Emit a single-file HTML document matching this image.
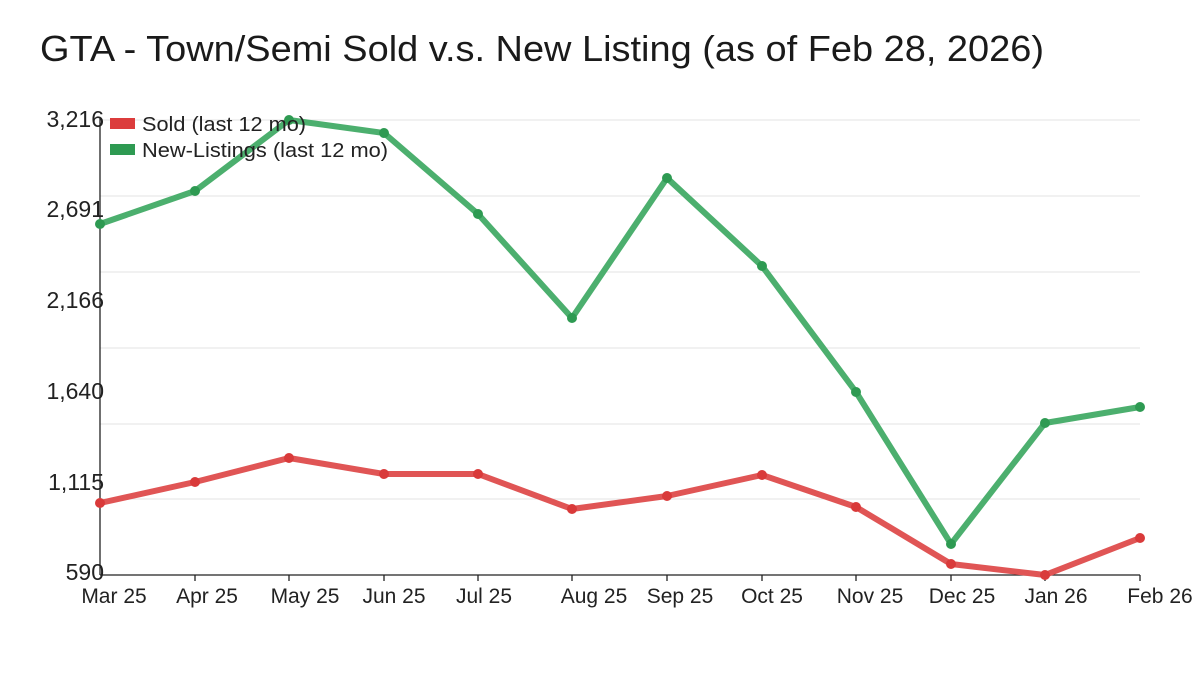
<!DOCTYPE html>
<html><head><meta charset="utf-8"><style>
body{margin:0;background:#fff;width:1200px;height:675px;overflow:hidden}
svg{font-family:"Liberation Sans","DejaVu Sans",sans-serif}
</style></head><body>
<svg width="1200" height="675" viewBox="0 0 1200 675">
<text x="40" y="61" font-size="36" fill="#1a1a1a" textLength="1004" lengthAdjust="spacingAndGlyphs">GTA - Town/Semi Sold v.s. New Listing (as of Feb 28, 2026)</text>
<g stroke="#e3e3e3" stroke-width="1">
<line x1="100" x2="1140" y1="120" y2="120"/><line x1="100" x2="1140" y1="196" y2="196"/>
<line x1="100" x2="1140" y1="272" y2="272"/><line x1="100" x2="1140" y1="348" y2="348"/>
<line x1="100" x2="1140" y1="424" y2="424"/><line x1="100" x2="1140" y1="499" y2="499"/>
</g>
<line x1="100" y1="118" x2="100" y2="575" stroke="#222" stroke-width="1.3"/>
<line x1="100" y1="575" x2="1140" y2="575" stroke="#222" stroke-width="1.3"/>
<g stroke="#222" stroke-width="1.3">
<line x1="195" x2="195" y1="575" y2="581"/><line x1="289" x2="289" y1="575" y2="581"/><line x1="384" x2="384" y1="575" y2="581"/><line x1="478" x2="478" y1="575" y2="581"/><line x1="572" x2="572" y1="575" y2="581"/><line x1="667" x2="667" y1="575" y2="581"/><line x1="762" x2="762" y1="575" y2="581"/><line x1="856" x2="856" y1="575" y2="581"/><line x1="951" x2="951" y1="575" y2="581"/><line x1="1045" x2="1045" y1="575" y2="581"/><line x1="1140" x2="1140" y1="575" y2="581"/>
</g>
<g font-size="23" fill="#222" text-anchor="end">
<text x="104" y="127">3,216</text><text x="104" y="217">2,691</text><text x="104" y="308">2,166</text>
<text x="104" y="399">1,640</text><text x="104" y="490">1,115</text><text x="104" y="580">590</text>
</g>
<g font-size="21" fill="#222" text-anchor="middle">
<text x="114" y="603">Mar 25</text><text x="207" y="603">Apr 25</text><text x="305" y="603">May 25</text><text x="394" y="603">Jun 25</text><text x="484" y="603">Jul 25</text><text x="594" y="603">Aug 25</text><text x="680" y="603">Sep 25</text><text x="772" y="603">Oct 25</text><text x="870" y="603">Nov 25</text><text x="962" y="603">Dec 25</text><text x="1056" y="603">Jan 26</text><text x="1160" y="603">Feb 26</text>
</g>
<polyline fill="none" stroke="#4caf6e" stroke-width="6" stroke-linejoin="round" points="100,224 195,191 289,120 384,133 478,214 572,318 667,178 762,266 856,392 951,544 1045,423 1140,407"/>
<g fill="#2e9a52">
<circle cx="100" cy="224" r="5"/><circle cx="195" cy="191" r="5"/><circle cx="289" cy="120" r="5"/><circle cx="384" cy="133" r="5"/><circle cx="478" cy="214" r="5"/><circle cx="572" cy="318" r="5"/><circle cx="667" cy="178" r="5"/><circle cx="762" cy="266" r="5"/><circle cx="856" cy="392" r="5"/><circle cx="951" cy="544" r="5"/><circle cx="1045" cy="423" r="5"/><circle cx="1140" cy="407" r="5"/>
</g>
<polyline fill="none" stroke="#e05555" stroke-width="6" stroke-linejoin="round" points="100,503 195,482 289,458 384,474 478,474 572,509 667,496 762,475 856,507 951,564 1045,575 1140,538"/>
<g fill="#d93a3a">
<circle cx="100" cy="503" r="5"/><circle cx="195" cy="482" r="5"/><circle cx="289" cy="458" r="5"/><circle cx="384" cy="474" r="5"/><circle cx="478" cy="474" r="5"/><circle cx="572" cy="509" r="5"/><circle cx="667" cy="496" r="5"/><circle cx="762" cy="475" r="5"/><circle cx="856" cy="507" r="5"/><circle cx="951" cy="564" r="5"/><circle cx="1045" cy="575" r="5"/><circle cx="1140" cy="538" r="5"/>
</g>
<rect x="110" y="118" width="25" height="11" fill="#dc3c3c"/>
<rect x="110" y="144" width="25" height="11" fill="#2e9a52"/>
<g font-size="20" fill="#222">
<text x="142" y="131" textLength="164" lengthAdjust="spacingAndGlyphs">Sold (last 12 mo)</text>
<text x="142" y="157" textLength="246" lengthAdjust="spacingAndGlyphs">New-Listings (last 12 mo)</text>
</g>
</svg>
</body></html>
